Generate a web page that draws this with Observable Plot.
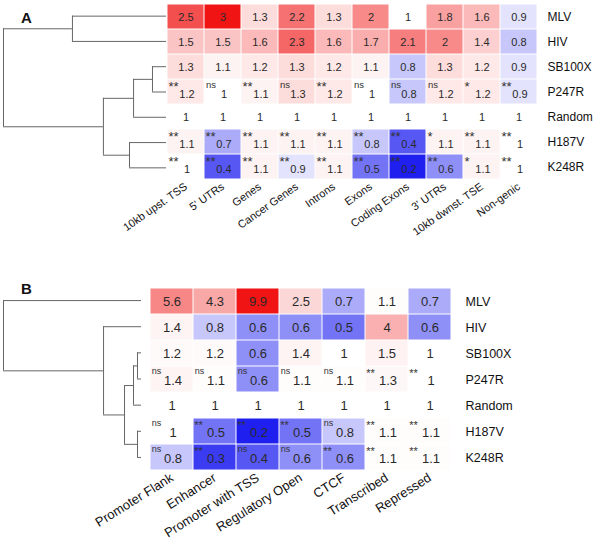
<!DOCTYPE html>
<html><head><meta charset="utf-8">
<script src="https://cdn.jsdelivr.net/npm/d3@7"></script>
<script src="https://cdn.jsdelivr.net/npm/@observablehq/plot@0.6"></script>
<style>
body{margin:0;background:#fff;}
#wrap{position:relative;width:605px;height:542px;overflow:hidden;font-family:"Liberation Sans",Arial,Helvetica,sans-serif;}
#wrap svg{position:absolute;background:transparent;overflow:visible;}
.plabel{position:absolute;font-weight:bold;font-size:15px;line-height:1;color:#111;}
</style></head><body><div id="wrap"></div>
<script>
// ---- Panel A data ----
const rowsA = ["MLV","HIV","SB100X","P247R","Random","H187V","K248R"];
const colsA = ["10kb upst. TSS","5' UTRs","Genes","Cancer Genes","Introns","Exons","Coding Exons","3' UTRs","10kb dwnst. TSE","Non-genic"];
const mlvA    = [2.5,3,1.3,2.2,1.3,2,1,1.8,1.6,0.9];
const hivA    = [1.5,1.5,1.6,2.3,1.6,1.7,2.1,2,1.4,0.8];
const sb100xA = [1.3,1.1,1.2,1.3,1.2,1.1,0.8,1.3,1.2,0.9];
const p247rA  = [1.2,1,1.1,1.3,1.2,1,0.8,1.2,1.2,0.9];
const randomA = [1,1,1,1,1,1,1,1,1,1];
const h187vA  = [1.1,0.7,1.1,1.1,1.1,0.8,0.4,1.1,1.1,1];
const k248rA  = [1,0.4,1.1,0.9,1.1,0.5,0.2,0.6,1.1,1];
const sigP247rA = ["**","ns","**","ns","**","ns","ns","ns","*","**"];
const sigH187vA = ["**","**","**","**","**","**","**","*","**","**"];
const sigK248rA = ["**","**","**","**","**","**","**","**","*","**"];
// dendrogram merges: [node, left, right, height (relative)]
const treeA = [
  ["a1","MLV","HIV",0.577],
  ["a2","SB100X","P247R",0.086],
  ["a3","a2","Random",0.202],
  ["a4","H187V","K248R",0.227],
  ["a5","a3","a4",0.387],
  ["a6","a1","a5",1.0]
];

// ---- Panel B data ----
const rowsB = ["MLV","HIV","SB100X","P247R","Random","H187V","K248R"];
const colsB = ["Promoter Flank","Enhancer","Promoter with TSS","Regulatory Open","CTCF","Transcribed","Repressed"];
const mlvB    = [5.6,4.3,9.9,2.5,0.7,1.1,0.7];
const hivB    = [1.4,0.8,0.6,0.6,0.5,4,0.6];
const sb100xB = [1.2,1.2,0.6,1.4,1,1.5,1];
const p247rB  = [1.4,1.1,0.6,1.1,1.1,1.3,1];
const randomB = [1,1,1,1,1,1,1];
const h187vB  = [1,0.5,0.2,0.5,0.8,1.1,1.1];
const k248rB  = [0.8,0.3,0.4,0.6,0.6,1.1,1.1];
const sigP247rB = ["ns","ns","ns","ns","ns","**","**"];
const sigH187vB = ["ns","**","**","**","ns","**","**"];
const sigK248rB = ["ns","**","ns","ns","**","**","**"];
const treeB = [
  ["b1","SB100X","P247R",0.029],
  ["b2","b1","Random",0.058],
  ["b3","H187V","K248R",0.029],
  ["b4","b2","b3",0.123],
  ["b5","HIV","b4",0.275],
  ["b6","MLV","b5",1.0]
];

const BLUE = "#1f1ff0", RED = "#f01414";
const wrap = document.getElementById("wrap");

function buildCells(rows, cols, vals, sigs) {
  return rows.flatMap((r, i) => cols.map((c, j) => ({row: r, col: c, v: vals[i][j], sig: sigs[i] ? sigs[i][j] : ""})));
}

function dendro(rows, tree) {
  const pos = new Map(rows.map((r, i) => [r, {y: i, h: 0}]));
  const vert = [], horiz = [];
  for (const [id, l, r, h] of tree) {
    const a = pos.get(l), b = pos.get(r);
    vert.push({x: h, y1: a.y, y2: b.y});
    horiz.push({y: a.y, x1: h, x2: a.h});
    horiz.push({y: b.y, x1: h, x2: b.h});
    pos.set(id, {y: (a.y + b.y) / 2, h});
  }
  return {vert, horiz};
}

function place(svg, left, top) {
  svg.style.left = left + "px";
  svg.style.top = top + "px";
  wrap.appendChild(svg);
}

function dendroPlot(rows, tree, o) {
  const {vert, horiz} = dendro(rows, tree);
  return Plot.plot({
    width: o.width, height: o.height,
    marginLeft: 3, marginRight: 0, marginTop: o.mT, marginBottom: o.mB,
    x: {domain: [1, 0], axis: null},
    y: {domain: [-0.5, rows.length - 0.5], reverse: true, axis: null},
    marks: [
      Plot.ruleX(vert, {x: "x", y1: "y1", y2: "y2", stroke: "#666", strokeWidth: 1}),
      Plot.ruleY(horiz, {y: "y", x1: "x1", x2: "x2", stroke: "#666", strokeWidth: 1})
    ]
  });
}

function heatPlot(o) {
  const bw = (o.width - o.mL - o.mR) / o.cols.length;
  const bh = (o.height - o.mT - o.mB) / o.rows.length;
  const plain = o.data.filter(d => !d.sig), marked = o.data.filter(d => d.sig);
  const ns = marked.filter(d => d.sig === "ns"), stars = marked.filter(d => d.sig !== "ns");
  return Plot.plot({
    width: o.width, height: o.height,
    marginLeft: o.mL, marginRight: o.mR, marginTop: o.mT, marginBottom: o.mB,
    style: {fontFamily: '"Liberation Sans", Arial, sans-serif', background: "transparent"},
    x: {domain: o.cols, padding: 0, axis: null},
    y: {domain: o.rows, padding: 0, axis: null},
    color: {type: "linear", domain: [o.lo, 1, o.hi], range: [BLUE, "#ffffff", RED], interpolate: "rgb"},
    marks: [
      Plot.cell(o.data, {x: "col", y: "row", fill: "v", inset: 0.5}),
      Plot.text(plain, {x: "col", y: "row", text: d => String(d.v), fontSize: o.numSize, fill: "#2a2a2a"}),
      Plot.text(marked, {x: "col", y: "row", text: d => String(d.v), fontSize: o.numSize, fill: "#2a2a2a", dx: 1, dy: o.numShift}),
      Plot.text(ns, {x: "col", y: "row", text: "sig", fontSize: o.nsSize, fill: "#333", textAnchor: "start", dx: -bw / 2 + 1.5, dy: -bh / 2 + o.sigDy}),
      Plot.text(stars, {x: "col", y: "row", text: "sig", fontSize: o.starSize, fill: "#333", textAnchor: "start", dx: -bw / 2 + 1, dy: -bh / 2 + o.sigDy + 2}),
      Plot.axisX({anchor: "bottom", tickSize: 0, tickPadding: o.tickPad, tickRotate: o.rot, fontSize: o.labSize, label: null, fill: "#111"}),
      Plot.axisY({anchor: "right", tickSize: 0, tickPadding: o.rowPad, fontSize: o.rowSize, label: null, fill: "#111"})
    ]
  });
}

// Panel A
const cellsA = buildCells(rowsA, colsA, [mlvA, hivA, sb100xA, p247rA, randomA, h187vA, k248rA],
  [null, null, null, sigP247rA, null, sigH187vA, sigK248rA]);
place(heatPlot({rows: rowsA, cols: colsA, data: cellsA, lo: 0.2, hi: 3,
  width: 605, height: 242, mL: 166, mR: 68, mT: 3, mB: 62,
  numSize: 11, numShift: 2, nsSize: 9.5, starSize: 13, sigDy: 5.5, rot: -35, labSize: 11, tickPad: 5, rowPad: 10, rowSize: 12}), 0, 0);
place(dendroPlot(rowsA, treeA, {width: 166, height: 242, mT: 3, mB: 62}), 0, 0);

// Panel B
const cellsB = buildCells(rowsB, colsB, [mlvB, hivB, sb100xB, p247rB, randomB, h187vB, k248rB],
  [null, null, null, sigP247rB, null, sigH187vB, sigK248rB]);
place(heatPlot({rows: rowsB, cols: colsB, data: cellsB, lo: 0.2, hi: 9.9,
  width: 605, height: 292, mL: 147, mR: 152, mT: 37, mB: 72,
  numSize: 13, numShift: 1, nsSize: 9, starSize: 11, sigDy: 5, rot: -32, labSize: 13, tickPad: 6, rowPad: 12, rowSize: 12.5}), 0, 250);
place(dendroPlot(rowsB, treeB, {width: 141, height: 292, mT: 37, mB: 72}), 0, 250);

// panel letters
for (const [t, l, tp] of [["A", 21, 10], ["B", 21, 281]]) {
  const d = document.createElement("div");
  d.className = "plabel"; d.textContent = t;
  d.style.left = l + "px"; d.style.top = tp + "px";
  wrap.appendChild(d);
}
</script></body></html>
